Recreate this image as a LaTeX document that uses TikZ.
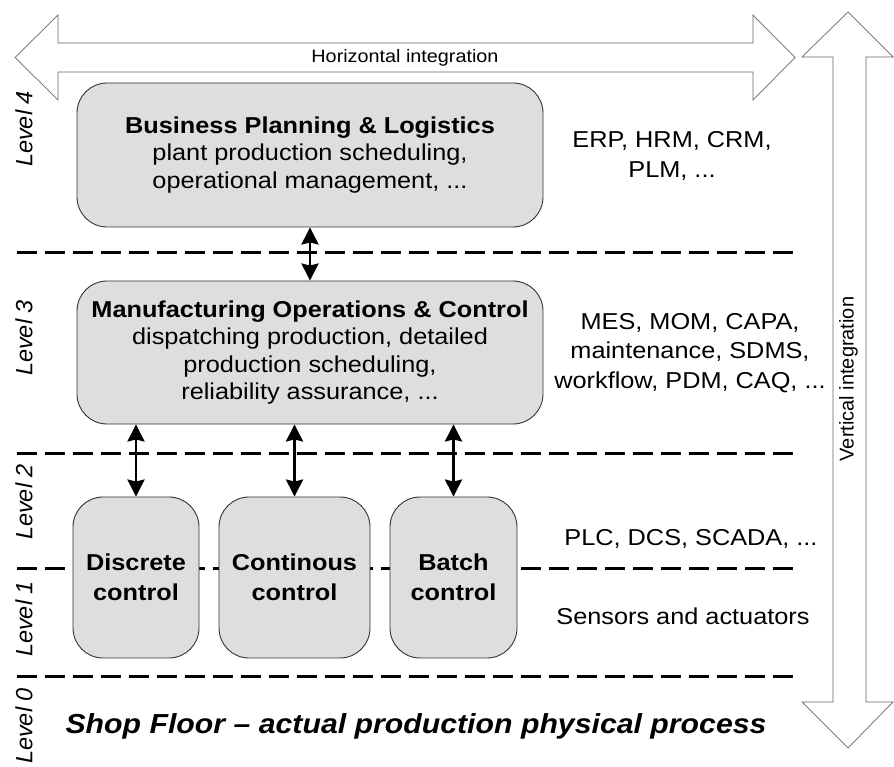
\documentclass[tikz,border=0pt]{standalone}
\usepackage{fontspec}
\setmainfont{Liberation Sans}[FakeStretch=1.1]
\newfontfamily\plainsans{Liberation Sans}
\usepackage{tikz}
\usetikzlibrary{arrows.meta}

\begin{document}
\begin{tikzpicture}[
x=1pt, y=-1pt,
B1/.style={rectangle, rounded corners=30pt, draw=black!80, fill=black!13, line width=0.9pt,
align=center, inner sep=0pt, font=\fontsize{23}{27.5}\selectfont},
B2/.style={B1, minimum height=161pt, font=\fontsize{23}{30}\selectfont\bfseries},
Side/.style={align=center, font=\fontsize{23}{29.5}\selectfont},
Lvl/.style={rotate=90, font=\plainsans\itshape\fontsize{23.5}{27}\selectfont},
Sep/.style={line width=3pt, dash pattern=on 20pt off 8pt},
Big/.style={draw=black!60, line width=0.7pt, fill=white},
Link/.style={<->, >={Stealth[length=17pt,width=17pt,inset=2pt]}, line width=2.8pt},
]
	\useasboundingbox (0,0) rectangle (894,767);
	% integration arrows
	\draw[Big] (15,57.5) -- (58,15) -- (58,43) -- (753,43) -- (753,15) -- (795,57.5)
	-- (753,100) -- (753,72) -- (58,72) -- (58,100) -- cycle;
	\draw[Big] (848,12) -- (893,57) -- (866,57) -- (866,702) -- (893,702) -- (848,748)
	-- (802,702) -- (833,702) -- (833,57) -- (802,57) -- cycle;
	\node[font=\fontsize{18}{20}\selectfont] (HI) at (405,58) {Horizontal integration};
	\node[rotate=90, font=\plainsans\fontsize{20}{22}\selectfont] (VI) at (848.5,379)
	{Vertical integration};
	
	% level borders
	\foreach \y in {253,453,568,676}
	\draw[Sep] (17,\y) -- (798,\y);
	
	\node[
	B1, 
	minimum width=466pt, 
	minimum height=144pt,
	] (BPL) 
	at (310,155)
	{\textbf{Business Planning \& Logistics}\\plant production scheduling,\\operational management, ...};
	\node[
	B1, 
	minimum width=466pt, 
	minimum height=143pt,
	] (MOC) 
	at (310,352.5)
	{\textbf{Manufacturing Operations \& Control}\\dispatching production, detailed\\production scheduling,\\reliability assurance, ...};
	\node[B2, minimum width=126pt] (Disc) at (136,577.5) {Discrete\\control};
	\node[B2, minimum width=151pt] (Cont) at (294.5,577.5) {Continous\\control};
	\node[B2, minimum width=127pt] (Batch) at (453.5,577.5) {Batch\\control};
	
	\draw[Link] (BPL) -- (MOC);
	\foreach \n in {Disc,Cont,Batch}
	\draw[Link] (MOC.south -| \n.north) -- (\n.north);
	
	% systems per level
	\node[Side] (ERP) at (672,156) {ERP, HRM, CRM,\\PLM, ...};
	\node[Side] (MES) at (690,353) {MES, MOM, CAPA,\\maintenance, SDMS,\\workflow, PDM, CAQ, ...};
	\node[Side] (PLC) at (691,539) {PLC, DCS, SCADA, ...};
	\node[Side] (Sens) at (683,616.5) {Sensors and actuators};
	
	\node[font=\fontsize{27.5}{33}\selectfont\bfseries\itshape] (Shop) at (416,726)
	{Shop Floor -- actual production physical process};
	
	% levels
	\node[Lvl] (L4) at (24,129) {Level 4};
	\node[Lvl] (L3) at (24,338) {Level 3};
	\node[Lvl] (L2) at (24,502) {Level 2};
	\node[Lvl] (L1) at (24,619) {Level 1};
	\node[Lvl] (L0) at (24,726) {Level 0};
\end{tikzpicture}
\end{document}
